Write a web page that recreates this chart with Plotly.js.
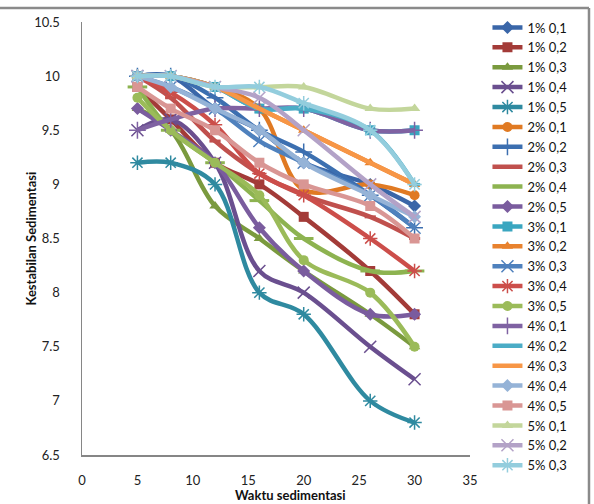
<!DOCTYPE html>
<html>
<head>
<meta charset="utf-8">
<script src="https://cdn.plot.ly/plotly-3.0.1.min.js"></script>
<style>
html,body{margin:0;padding:0;background:#fff;}
#chart{width:594px;height:504px;}
</style>
</head>
<body>
<div id="chart"></div>
<script>
// Sedimentation time (x) values
const waktu = [5, 8, 12, 16, 20, 26, 30];

// Series names
const names = ["1% 0,1","1% 0,2","1% 0,3","1% 0,4","1% 0,5",
               "2% 0,1","2% 0,2","2% 0,3","2% 0,4","2% 0,5",
               "3% 0,1","3% 0,2","3% 0,3","3% 0,4","3% 0,5",
               "4% 0,1","4% 0,2","4% 0,3","4% 0,4","4% 0,5",
               "5% 0,1","5% 0,2","5% 0,3"];

// Axis titles
const xTitle = "Waktu sedimentasi";
const yTitle = "Kestabilan Sedimentasi";

// Series values (Kestabilan Sedimentasi)
const s1_01 = [10.0, 10.0, 9.7, 9.5, 9.2, 9.0, 8.8];
const s1_02 = [9.9, 9.6, 9.2, 9.0, 8.7, 8.2, 7.8];
const s1_03 = [9.7, 9.5, 8.8, 8.5, 8.2, 7.8, 7.5];
const s1_04 = [9.5, 9.6, 9.2, 8.2, 8.0, 7.5, 7.2];
const s1_05 = [9.2, 9.2, 9.0, 8.0, 7.8, 7.0, 6.8];
const s2_01 = [10.0, 10.0, 9.9, 9.7, 8.95, 9.0, 8.9];
const s2_02 = [10.0, 10.0, 9.8, 9.5, 9.3, 8.9, 8.6];
const s2_03 = [10.0, 9.8, 9.4, 9.1, 8.9, 8.7, 8.5];
const s2_04 = [9.9, 9.5, 9.2, 8.85, 8.5, 8.2, 8.2];
const s2_05 = [9.7, 9.5, 9.2, 8.6, 8.2, 7.8, 7.8];
const s3_01 = [10.0, 10.0, 9.9, 9.7, 9.7, 9.5, 9.5];
const s3_02 = [10.0, 10.0, 9.9, 9.7, 9.5, 9.2, 9.0];
const s3_03 = [10.0, 9.9, 9.7, 9.4, 9.2, 8.9, 8.6];
const s3_04 = [10.0, 9.85, 9.55, 9.1, 8.9, 8.5, 8.2];
const s3_05 = [9.8, 9.5, 9.2, 8.9, 8.3, 8.0, 7.5];
const s4_01 = [9.5, 9.6, 9.7, 9.7, 9.7, 9.5, 9.5];
const s4_02 = [10.0, 10.0, 9.9, 9.7, 9.7, 9.5, 9.0];
const s4_03 = [10.0, 10.0, 9.9, 9.7, 9.5, 9.2, 9.0];
const s4_04 = [10.0, 9.9, 9.7, 9.5, 9.2, 8.9, 8.7];
const s4_05 = [9.9, 9.7, 9.5, 9.2, 9.0, 8.8, 8.5];
const s5_01 = [10.0, 10.0, 9.9, 9.9, 9.9, 9.7, 9.7];
const s5_02 = [10.0, 10.0, 9.9, 9.8, 9.5, 9.0, 8.7];
const s5_03 = [10.0, 10.0, 9.9, 9.9, 9.75, 9.5, 9.0];

const seriesValues = [s1_01,s1_02,s1_03,s1_04,s1_05,
                      s2_01,s2_02,s2_03,s2_04,s2_05,
                      s3_01,s3_02,s3_03,s3_04,s3_05,
                      s4_01,s4_02,s4_03,s4_04,s4_05,
                      s5_01,s5_02,s5_03];

// Styles
const colors = ["#3A66A8","#A33B38","#7A9A3E","#6A4F8F","#2F8AA0",
                "#E07A23","#3C6FB0","#C0504D","#8DB350","#7A5C9E",
                "#3AA6C0","#E8822E","#4F81BD","#CC4E4A","#9BBB59",
                "#7F62A2","#4BACC6","#F79646","#95B3D7","#D99694",
                "#C3D69B","#B3A2C7","#93CDDD"];
const symbols = ["diamond","square","triangle-up","x-thin-open","asterisk-open",
                 "circle","cross-thin-open","line-ew-open","line-ew-open","diamond",
                 "square","triangle-up","x-thin-open","asterisk-open","circle",
                 "cross-thin-open","line-ew-open",null,"diamond","square",
                 "triangle-up","x-thin-open","asterisk-open"];

const traces = names.map((nm, i) => {
  const sym = symbols[i];
  const open = sym && sym.indexOf("open") >= 0;
  const t = {
    type: "scatter",
    x: waktu,
    y: seriesValues[i],
    name: nm,
    mode: sym ? "lines+markers" : "lines",
    line: {color: colors[i], width: 4.5, shape: "spline", smoothing: 1},
  };
  if (sym) {
    t.marker = {
      symbol: sym,
      size: sym.indexOf("line-ew") === 0 ? (i === 8 ? 14 : 8) : (open ? 12 : 10),
      color: colors[i],
      line: {color: colors[i], width: open ? 1.5 : 0}
    };
    if (sym.indexOf("line-ew") === 0) t.marker.line.width = 3;
  }
  return t;
});

const fontFam = "Lato, 'Open Sans', sans-serif";
const layout = {
  width: 594, height: 504,
  margin: {l: 82, r: 124, t: 22, b: 49},
  paper_bgcolor: "#ffffff",
  plot_bgcolor: "#ffffff",
  font: {family: fontFam, size: 13, color: "#222"},
  showlegend: true,
  legend: {
    x: 1.045, xanchor: "left", y: 1.022, yanchor: "top",
    maxheight: 500,
    font: {family: fontFam, size: 13, color: "#111"},
    tracegroupgap: 0, bgcolor: "rgba(255,255,255,0)", borderwidth: 0
  },
  xaxis: {
    range: [0, 35], dtick: 5, tick0: 0,
    showgrid: false, zeroline: false,
    showline: true, linecolor: "#868686", linewidth: 1.5,
    ticks: "", ticklabelstandoff: 13,
    tickfont: {family: fontFam, size: 13, color: "#222"},
    automargin: false
  },
  yaxis: {
    range: [6.5, 10.5], dtick: 0.5, tick0: 6.5,
    showgrid: false, zeroline: false,
    showline: true, linecolor: "#868686", linewidth: 1.5,
    ticks: "", ticklabelstandoff: 18,
    tickfont: {family: fontFam, size: 13, color: "#222"},
    automargin: false
  },
  annotations: [
    {text: "<b>" + xTitle + "</b>", xref: "paper", yref: "paper",
     x: (290 - 82) / 388, y: (455 - 495) / 433, xanchor: "center", yanchor: "middle",
     showarrow: false, font: {family: fontFam, size: 13, color: "#111"}},
    {text: "<b>" + yTitle + "</b>", xref: "paper", yref: "paper",
     x: (30 - 82) / 388, y: 0.5, xanchor: "center", yanchor: "middle", textangle: -90,
     showarrow: false, font: {family: fontFam, size: 13, color: "#111"}}
  ],
  shapes: [
    {type: "line", xref: "paper", yref: "paper", x0: -0.22, x1: 1.3067, y0: 1.0323, y1: 1.0323,
     line: {color: "#8a8a8a", width: 2.5}},
    {type: "line", xref: "paper", yref: "paper", x0: 1.3067, x1: 1.3067, y0: 1.0323, y1: -0.12,
     line: {color: "#8a8a8a", width: 2.5}}
  ]
};

Plotly.newPlot("chart", traces, layout, {displayModeBar: false, staticPlot: true});
</script>
</body>
</html>
